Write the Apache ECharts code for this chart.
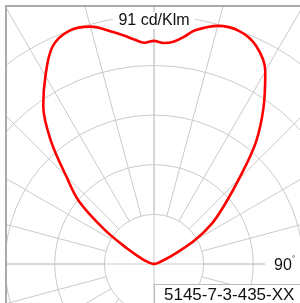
<!DOCTYPE html>
<html>
<head>
<meta charset="utf-8">
<script src="https://cdn.jsdelivr.net/npm/echarts@6/dist/echarts.min.js"></script>
<style>
html, body { margin: 0; padding: 0; background: #fff; }
#chart { width: 300px; height: 303px; }
</style>
</head>
<body>
<div id="chart"></div>
<script>
// gamma angle from nadir (deg), only the upper half carries light
var gamma = [90, 95, 100, 105, 110, 115, 120, 125, 130, 135, 140, 145, 150, 155, 160, 165, 170, 172.5, 175, 177.5, 180];
// C0 plane (right half), cd/klm
var c0 = [0, 0.4, 0.8, 1.6, 3, 7.3, 17, 26, 33.8, 44, 58, 70, 81.6, 88.4, 91, 90.4, 87, 84, 81.8, 81.1, 81.8];
// C180 plane (left half), cd/klm
var c180 = [0, 0.4, 0.8, 1.6, 3.3, 5.9, 11.5, 22.5, 36, 45.5, 58.7, 70.8, 79.6, 88, 91, 90.1, 86.4, 84.5, 82.6, 81.2, 81.8];
var maxLabel = "91 cd/Klm";
var angleLabel = "90";
var lampCode = "5145-7-3-435-XX";
var ringStep = 18.2;

var cx = 154, cy = 264;
var font = "Liberation Sans, Arial, sans-serif";
var gridColor = "#cacaca";
var frameColor = "#a9a9a9";

function buildCurve(){
	var pts = [];
	var i;
	for (i = 0; i < gamma.length; i++)
		pts.push([c180[i], gamma[i]]);
	for (i = gamma.length - 2; i >= 0; i--)
		pts.push([c0[i], 360 - gamma[i]]);
	return pts;
}

var chart = echarts.init(document.getElementById("chart"), null, {renderer: "canvas"});
chart.setOption({
	animation: false,
	polar: [
		{center: [cx, cy], radius: [0, 300]},
		{center: [cx, cy], radius: [ringStep * 248 / 91, 300]}
	],
	angleAxis: [{
		polarIndex: 0, type: "value", min: 0, max: 360, interval: 90,
		startAngle: 270, clockwise: true,
		axisLine: {show: false}, axisTick: {show: false}, axisLabel: {show: false},
		splitLine: {show: true, lineStyle: {color: gridColor, width: 1}}
	}, {
		polarIndex: 1, type: "value", min: 0, max: 360, interval: 15,
		startAngle: 270, clockwise: true,
		axisLine: {show: false}, axisTick: {show: false}, axisLabel: {show: false},
		splitLine: {show: true, lineStyle: {color: gridColor, width: 1}}
	}],
	radiusAxis: [{
		polarIndex: 0, type: "value", min: 0, max: 110, interval: ringStep,
		axisLine: {show: false}, axisTick: {show: false}, axisLabel: {show: false},
		splitLine: {show: true, lineStyle: {color: gridColor, width: 1}}
	}, {
		polarIndex: 1, type: "value", min: 0, max: 1,
		axisLine: {show: false}, axisTick: {show: false}, axisLabel: {show: false},
		splitLine: {show: false}
	}],
	series: [{
		type: "line",
		coordinateSystem: "polar",
		polarIndex: 0,
		data: buildCurve(),
		showSymbol: false,
		smooth: 0.35,
		lineStyle: {color: "#ff0000", width: 2.6},
		z: 5
	}],
	graphic: [
		// mask outside the frame
		{type: "rect", z: 100, shape: {x: 0, y: 0, width: 300, height: 6}, style: {fill: "#fff"}},
		{type: "rect", z: 100, shape: {x: 0, y: 0, width: 5, height: 303}, style: {fill: "#fff"}},
		{type: "line", z: 101, shape: {x1: 5, y1: 6, x2: 300, y2: 6}, style: {stroke: frameColor, lineWidth: 2}},
		{type: "line", z: 101, shape: {x1: 6, y1: 5, x2: 6, y2: 303}, style: {stroke: frameColor, lineWidth: 2}},
		// max label
		{type: "rect", z: 100, shape: {x: 113, y: 12, width: 82, height: 17}, style: {fill: "#fff"}},
		{type: "text", z: 101, x: 154, y: 21, style: {text: maxLabel, font: "16px " + font, fill: "#111", textAlign: "center", textVerticalAlign: "middle"}},
		// 90 degree label
		{type: "rect", z: 100, shape: {x: 265, y: 256, width: 40, height: 18}, style: {fill: "#fff"}},
		{type: "text", z: 101, x: 274, y: 265.5, style: {text: angleLabel, font: "16px " + font, fill: "#111", textAlign: "left", textVerticalAlign: "middle"}},
		{type: "text", z: 101, x: 292, y: 259, style: {text: "°", font: "8px " + font, fill: "#111", textAlign: "left", textVerticalAlign: "middle"}},
		// lamp code box
		{type: "rect", z: 100, shape: {x: 154.5, y: 284.5, width: 160, height: 30}, style: {fill: "#fff", stroke: "#b8b8b8", lineWidth: 1}},
		{type: "text", z: 101, x: 164, y: 295.5, style: {text: lampCode, font: "17px " + font, fill: "#111", textAlign: "left", textVerticalAlign: "middle"}}
	]
});
</script>
</body>
</html>
